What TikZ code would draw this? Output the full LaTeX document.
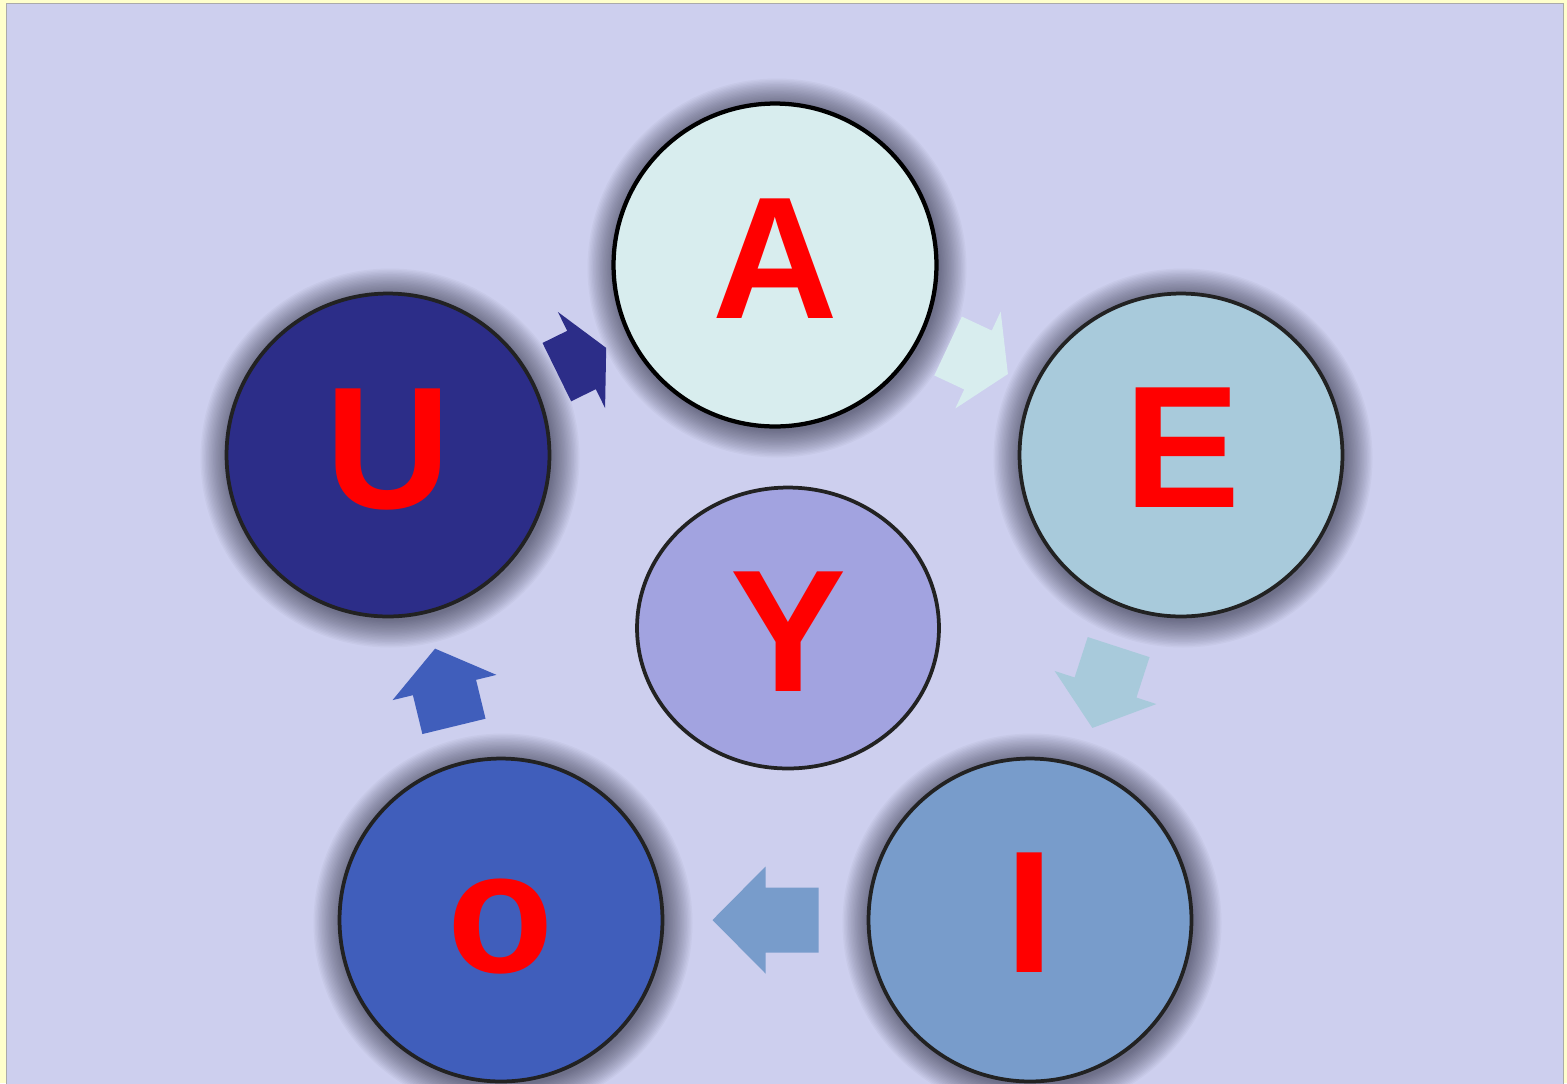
\documentclass[tikz,border=0pt]{standalone}
\usepackage{fontspec}
\setmainfont{Liberation Sans}
\usetikzlibrary{calc,shapes.geometric}
\definecolor{bgyellow}{RGB}{255,255,204}
\definecolor{lav}{RGB}{205,207,238}
\definecolor{frameline}{RGB}{170,170,170}
\definecolor{cA}{RGB}{216,237,238}
\definecolor{cE}{RGB}{168,202,219}
\definecolor{cI}{RGB}{120,156,203}
\definecolor{cO}{RGB}{64,94,187}
\definecolor{cU}{RGB}{44,45,136}
\definecolor{cY}{RGB}{162,163,224}
\definecolor{rimline}{RGB}{34,34,34}
\definecolor{shade}{RGB}{20,20,40}
\begin{document}
\begin{tikzpicture}[x=0.02cm,y=-0.02cm,
  circ/.style={circle,draw=rimline,line width=0.075cm,minimum size=6.46cm,inner sep=0pt},
  letter/.style={text=red,font=\fontsize{99}{99}\selectfont\bfseries,inner sep=0pt,anchor=base},
  glow/.style={fill=shade,fill opacity=0.032}]
\useasboundingbox (0,0) rectangle (1567,1083);
\fill[bgyellow] (0,0) rectangle (1567,1083);
\filldraw[fill=lav,draw=frameline,line width=0.02cm] (6,3) rectangle (1563,1090);
% shadows
\foreach \cx/\cy in {775/265,1181/455,1030/920,501/920,388/455}{
  \foreach \k in {1,...,20}{
    \fill[glow] (\cx+2,\cy+3) circle ({161.5+1.4*\k});
  }
}
% circles
\node[circ,fill=cA,draw=black,line width=0.085cm] (A) at (775,265) {};
\node[circ,fill=cE] (E) at (1181,455) {};
\node[circ,fill=cI] (I) at (1030,920) {};
\node[circ,fill=cO] (O) at (501,920) {};
\node[circ,fill=cU] (U) at (388,455) {};
\node[ellipse,draw=rimline,line width=0.075cm,fill=cY,minimum width=6.04cm,minimum height=5.62cm,inner sep=0pt] (Y) at (788,628) {};
% block arrows
\foreach \p/\q/\ang/\len/\col in {U/A/26.15/55/cU, A/E/-25.08/66/cA, E/I/-108.0/85/cE, I/O/180/106/cI, O/U/103.66/80/cO}{
  \begin{scope}[shift={($(\p)!0.5!(\q)$)},rotate=\ang]
    \fill[\col] (-\len/2,-32.5) -- (0,-32.5) -- (0,-53.5) -- (\len/2,0) -- (0,53.5) -- (0,32.5) -- (-\len/2,32.5) -- cycle;
  \end{scope}
}
% letters
\node[letter] (tA) at (775,318) {A};
\node[letter] (tE) at (1182,507) {E};
\node[letter] (tU) at (388,508) {U};
\node[letter] (tY) at (788,691) {Y};
\node[letter] (tI) at (1030,972) {I};
\node[letter] (tO) at (501,972) {o};
\end{tikzpicture}
\end{document}
